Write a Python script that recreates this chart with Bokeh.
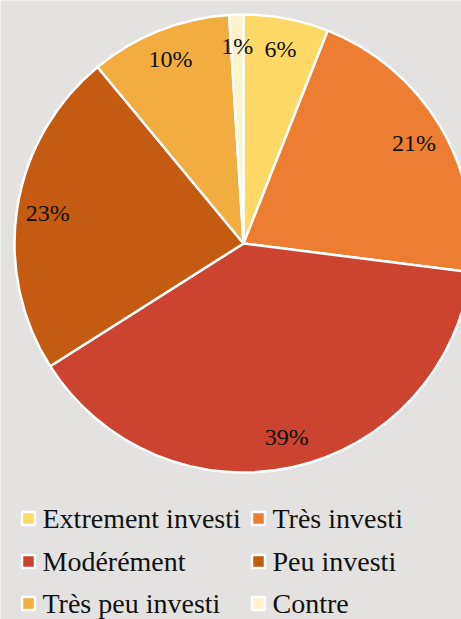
import math
from bokeh.plotting import figure
from bokeh.models import ColumnDataSource, Range1d
from bokeh.core.properties import value
from bokeh.embed import file_html
from bokeh.resources import INLINE

categories = ["Extrement investi", "Très investi", "Modérément", "Peu investi", "Très peu investi", "Contre"]
shares = [6, 21, 39, 23, 10, 1]
labels = ["6%", "21%", "39%", "23%", "10%", "1%"]
colors = ["#ffd966", "#ed7d31", "#cc4330", "#c55a11", "#f2ad40", "#fff2cc"]

BG = "#e3e2e1"
W, H = 461, 619
CX, CY, R = 243, 376, 229

total = float(sum(shares))
starts, ends, lx, ly = [], [], [], []
cum = 0.0
for s in shares:
    a0 = math.pi / 2 - 2 * math.pi * cum / total
    cum += s
    a1 = math.pi / 2 - 2 * math.pi * cum / total
    starts.append(a0)
    ends.append(a1)
    mid = (a0 + a1) / 2
    lx.append(CX + 0.865 * R * math.cos(mid))
    ly.append(CY + 0.865 * R * math.sin(mid))

src = ColumnDataSource(dict(start=starts, end=ends, color=colors, lx=lx, ly=ly, label=labels))

p = figure(width=W, height=H, output_backend="svg", toolbar_location=None,
           x_range=Range1d(0, W), y_range=Range1d(0, H), min_border=0)
p.axis.visible = False
p.grid.visible = False
p.outline_line_color = None
p.background_fill_color = BG
p.border_fill_color = BG

p.wedge(x=CX, y=CY, radius=R, start_angle="start", end_angle="end", direction="clock",
        fill_color="color", line_color="white", line_width=2.5, source=src)
p.text(x="lx", y="ly", text="label", source=src, text_align="center", text_baseline="middle",
       text_font=value("Liberation Serif"), text_font_size="24px", text_color="#111111")

# legend: 2 columns x 3 rows (square centres)
col_x = [28, 258]
row_y = [H - 518, H - 561, H - 603]
sq_x, sq_y, tx, ty = [], [], [], []
for i, c in enumerate(categories):
    r, k = divmod(i, 2)
    sq_x.append(col_x[k])
    sq_y.append(row_y[r])
    tx.append(col_x[k] + 14)
    ty.append(row_y[r])
lsrc = ColumnDataSource(dict(sx=sq_x, sy=sq_y, tx=tx, ty=ty, name=categories, color=colors))
p.rect(x="sx", y="sy", width=13, height=13, fill_color="color", line_color="white",
       line_width=2.5, source=lsrc)
p.text(x="tx", y="ty", text="name", source=lsrc, text_align="left", text_baseline="middle",
       text_font=value("Liberation Serif"), text_font_size="28px", text_color="#111111")

html = file_html(p, INLINE)
open("out.html", "w").write(html)
